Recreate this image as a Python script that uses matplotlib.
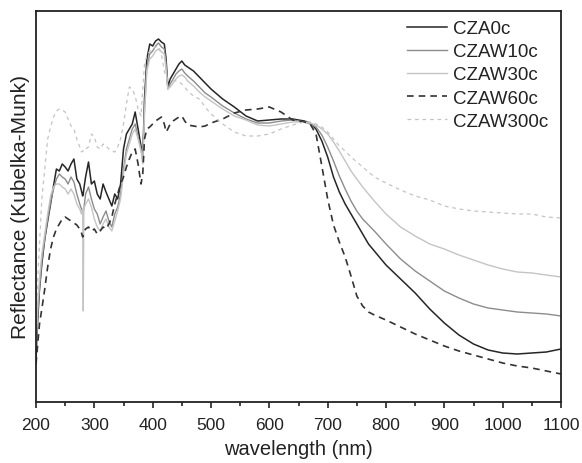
import numpy as np
import matplotlib
matplotlib.use("Agg")
import matplotlib.pyplot as plt
from matplotlib.ticker import MultipleLocator

plt.rcParams['font.family'] = ['Liberation Sans', 'DejaVu Sans']

wavelength = [200, 203, 206, 210, 215, 220, 225, 230, 235, 240, 245, 250, 255, 260, 265, 270,
              275, 278, 280, 281, 282, 285, 290, 295, 300, 305, 310, 315, 320, 325, 330, 335,
              340, 345, 350, 355, 360, 365, 370, 375, 380, 383, 386, 390, 395, 400, 405, 410,
              415, 420, 423, 426, 430, 435, 440, 445, 450, 455, 460, 470, 480, 490, 500, 520,
              540, 560, 580, 600, 620, 640, 660, 670, 680, 690, 700, 710, 720, 730, 740, 750,
              760, 770, 780, 800, 825, 850, 875, 900, 925, 950, 975, 1000, 1025, 1050, 1075, 1100]

cza0c = [42, 80, 110, 135, 160, 178, 195, 213, 230, 228, 235, 232, 228, 235, 240, 220,
         215, 208, 203, 205, 210, 222, 237, 215, 218, 205, 200, 215, 207, 200, 193, 205,
         200, 215, 250, 265, 270, 275, 287, 270, 253, 240, 300, 340, 355, 353, 358, 360,
         357, 355, 340, 312, 320, 325, 330, 335, 338, 334, 332, 328, 322, 316, 310, 300,
         292, 283, 278, 279, 280, 280, 278, 276, 270, 258, 242, 222, 207, 195, 185, 175,
         165, 155, 148, 134, 120, 106, 90, 76, 64, 55, 49, 46, 45, 46, 47, 50]

czaw10c = [50, 85, 110, 138, 160, 180, 197, 210, 220, 225, 222, 220, 215, 222, 217, 205,
           195, 190, 188, 187, 190, 205, 212, 200, 190, 185, 175, 182, 188, 178, 172, 185,
           192, 205, 230, 250, 260, 270, 275, 262, 250, 240, 290, 332, 345, 348, 353, 356,
           352, 350, 335, 310, 315, 320, 325, 328, 330, 326, 323, 318, 312, 306, 302, 293,
           286, 280, 276, 276, 278, 279, 277, 275, 272, 264, 252, 238, 223, 210, 198, 188,
           180, 174, 168, 155, 140, 128, 118, 108, 101, 95, 91, 89, 87, 86, 85, 83]

czaw30c = [55, 95, 120, 145, 165, 185, 203, 212, 215, 215, 212, 210, 205, 210, 205, 195,
           190, 185, 190, 88, 190, 195, 200, 192, 180, 172, 168, 175, 180, 172, 168, 178,
           188, 200, 225, 245, 255, 265, 270, 260, 248, 235, 285, 328, 340, 343, 348, 350,
           347, 345, 330, 310, 312, 316, 320, 323, 324, 322, 318, 313, 307, 302, 298, 290,
           283, 279, 274, 273, 275, 277, 277, 276, 274, 270, 265, 257, 248, 238, 228, 220,
           212, 205, 198, 185, 172, 163, 155, 150, 144, 139, 134, 130, 127, 126, 124, 122]

czaw60c = [35, 55, 75, 90, 110, 132, 150, 162, 170, 175, 180, 182, 180, 178, 176, 174,
           170, 166, 162, 164, 167, 170, 172, 168, 170, 165, 168, 172, 170, 175, 182, 195,
           205, 215, 222, 232, 240, 247, 250, 235, 215, 225, 260, 270, 272, 275, 278, 280,
           282, 275, 267, 270, 275, 278, 280, 282, 283, 278, 274, 273, 272, 273, 276, 280,
           286, 289, 290, 292, 287, 279, 277, 275, 265, 233, 200, 174, 157, 142, 123, 103,
           93, 87, 84, 79, 72, 65, 59, 53, 48, 44, 40, 36, 33, 31, 28, 25]

czaw300c = [80, 120, 155, 200, 230, 260, 272, 282, 288, 290, 289, 287, 280, 273, 270, 260,
            252, 247, 248, 248, 250, 250, 252, 265, 262, 252, 250, 255, 253, 250, 248, 247,
            252, 260, 275, 295, 312, 310, 303, 290, 283, 310, 335, 343, 348, 350, 352, 353,
            345, 328, 322, 320, 320, 319, 318, 317, 315, 312, 308, 303, 300, 292, 285, 275,
            267, 263, 263, 265, 270, 274, 277, 277, 275, 272, 267, 260, 253, 248, 242, 237,
            232, 227, 222, 216, 209, 203, 199, 193, 190, 188, 187, 186, 185, 185, 182, 181]

labels = ['CZA0c', 'CZAW10c', 'CZAW30c', 'CZAW60c', 'CZAW300c']
series = [cza0c, czaw10c, czaw30c, czaw60c, czaw300c]
colors = ['#262626', '#8c8c8c', '#c4c4c4', '#333333', '#c4c4c4']
styles = ['-', '-', '-', (0, (4, 3)), (0, (3, 3))]
widths = [1.1, 1.0, 1.0, 1.2, 0.9]

fig = plt.figure(figsize=(5.82, 4.64), dpi=100)
ax = fig.add_axes([36/582, 1-403/464, (561-36)/582, (403-12)/464])

for y, lab, c, ls, lw in zip(series, labels, colors, styles, widths):
    ax.plot(wavelength, y, color=c, linestyle=ls, linewidth=lw, label=lab)

ax.set_xlim(200, 1100)
ax.set_ylim(-3, 388)
ax.xaxis.set_major_locator(MultipleLocator(100))
ax.xaxis.set_minor_locator(MultipleLocator(50))
ax.tick_params(axis='x', which='major', direction='out', length=4.5, width=1.2,
               labelsize=12.5, pad=6, colors='#222222')
ax.tick_params(axis='x', which='minor', direction='out', length=3, width=1.2,
               colors='#222222')
ax.tick_params(axis='y', which='both', left=False, labelleft=False)
for s in ax.spines.values():
    s.set_linewidth(1.3)
    s.set_color('#222222')

ax.set_xlabel('wavelength (nm)', fontsize=14.5, color='#222222', labelpad=5)
ax.set_ylabel('Reflectance (Kubelka-Munk)', fontsize=15, color='#222222', labelpad=4)

leg = ax.legend(loc='upper left', bbox_to_anchor=((407-36)/525, (403-21)/391),
                frameon=False, fontsize=13.5, handlelength=2.15, handletextpad=0.3,
                labelspacing=0.32, borderpad=0, borderaxespad=0)
for t in leg.get_texts():
    t.set_color('#222222')

fig.savefig('out.png', dpi=100)
